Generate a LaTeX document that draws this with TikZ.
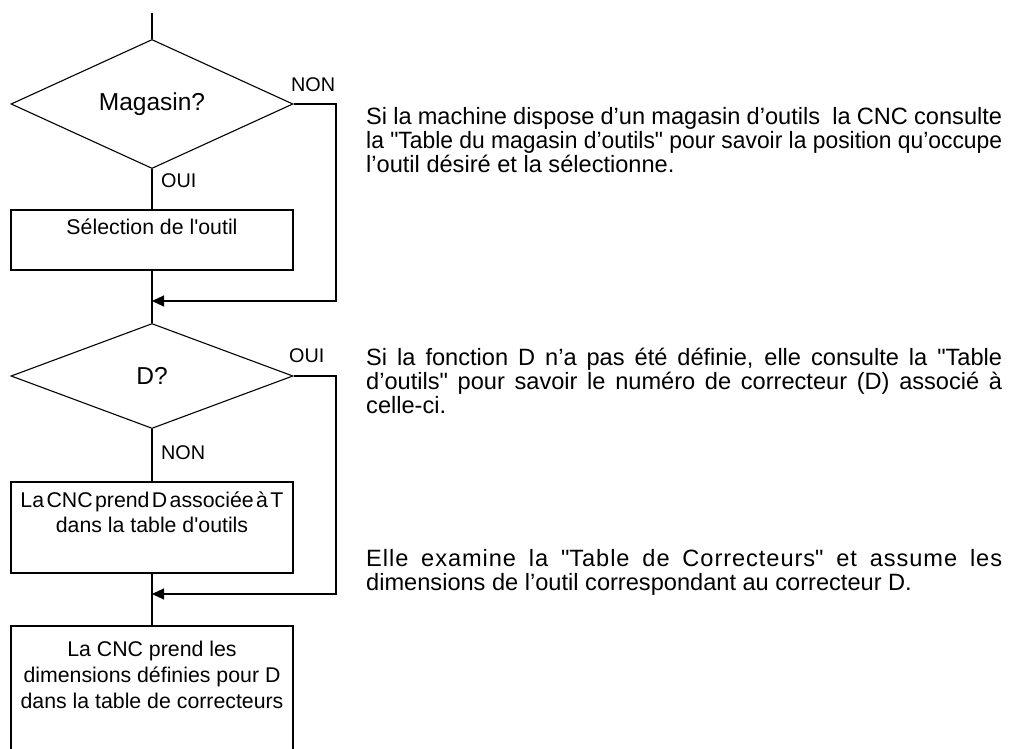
\documentclass[tikz,border=0pt]{standalone}
\usepackage{fontspec}
\setmainfont{Liberation Sans}
\usepackage{graphicx}
\usetikzlibrary{shapes.geometric,arrows.meta}
\newcommand\flfont{\fontsize{21.3}{25}\selectfont}
\newcommand\dfont{\fontsize{24.5}{26}\selectfont}
\newcommand\tagfont{\fontsize{19.8}{22}\selectfont}
\newcommand\rtfont{\fontsize{23.6}{24}\selectfont}
\tikzset{
  decision/.style={diamond, draw, line width=1.1pt, minimum width=282pt, minimum height=105pt, inner sep=0pt, font=\dfont},
  procbox/.style={rectangle, draw, line width=1.1pt, minimum width=282pt, inner sep=0pt},
  boxline/.style={anchor=base, inner sep=0pt, font=\flfont},
  tag/.style={anchor=base west, inner sep=0pt, font=\tagfont},
  paraline/.style={anchor=base west, inner sep=0pt, font=\rtfont},
  conn/.style={line width=1.1pt},
  merge/.style={line width=1.1pt, -{Triangle[length=12pt,width=11pt]}},
}
\begin{document}
\begin{tikzpicture}[x=1pt,y=-1pt]
\useasboundingbox (0,0) rectangle (1010,749);
\clip (0,0) rectangle (1010,749);
\fill[white] (0,0) rectangle (1010,749);

% flowchart
\coordinate (top) at (152,13);
\node[decision] (d1) at (152,104) {Magasin?};
\node[procbox, minimum height=60pt] (b1) at (152,240) {};
\coordinate (m1) at (152,301);
\coordinate (r1) at (336,301);
\node[decision] (d2) at (152,376) {D?};
\node[procbox, minimum height=91pt] (b2) at (152,527.5) {};
\coordinate (m2) at (152,594);
\coordinate (r2) at (336,594);
\node[procbox, minimum height=154pt] (b3) at (152,703) {};

\draw[conn] (top) -- (d1.north);
\draw[conn] (d1.south) -- (b1.north);
\draw[conn] (b1.south) -- (m1) -- (d2.north);
\draw[merge] (d1.east) -| (r1) -- (m1);
\draw[conn] (d2.south) -- (b2.north);
\draw[conn] (b2.south) -- (m2) -- (b3.north);
\draw[merge] (d2.east) -| (r2) -- (m2);

% labels on connectors
\node[tag] (t1) at (161,187) {OUI};
\node[tag] (t2) at (291,92) {NON};
\node[tag] (t3) at (289,362) {OUI};
\node[tag] (t4) at (161,459) {NON};

% box texts
\node[boxline] (b1t) at (152,234) {Sélection de l\textquotesingle outil};
\node[boxline] (b2ta) at (152,507) {\spaceskip=2.4pt\relax La CNC prend D associée à T};
\node[boxline] (b2tb) at (152,532) {dans la table d\textquotesingle outils};
\node[boxline] (b3ta) at (152,656) {La CNC prend les};
\node[boxline] (b3tb) at (152,682) {dimensions définies pour D};
\node[boxline] (b3tc) at (152,708) {dans la table de correcteurs};

% explanatory text
\node[paraline] (p1a) at (366,125) {\makebox[636pt][s]{Si la machine dispose d’un magasin d’outils\ \ la CNC consulte}};
\node[paraline] (p1b) at (366,149) {\resizebox{636pt}{\height}{la \textquotedbl Table du magasin d’outils\textquotedbl{} pour savoir la position qu’occupe}};
\node[paraline] (p1c) at (366,173) {l’outil désiré et la sélectionne.};

\node[paraline] (p2a) at (366,365) {\makebox[636pt][s]{Si la fonction D n’a pas été définie, elle consulte la \textquotedbl Table}};
\node[paraline] (p2b) at (366,389) {\makebox[636pt][s]{d’outils\textquotedbl{} pour savoir le numéro de correcteur (D) associé à}};
\node[paraline] (p2c) at (366,413) {celle-ci.};

\node[paraline] (p3a) at (366,566) {\makebox[636pt][s]{\addfontfeature{LetterSpace=4}Elle examine la \textquotedbl Table de Correcteurs\textquotedbl{} et assume les}};
\node[paraline] (p3b) at (366,590) {dimensions de l’outil correspondant au correcteur D.};
\end{tikzpicture}
\end{document}
